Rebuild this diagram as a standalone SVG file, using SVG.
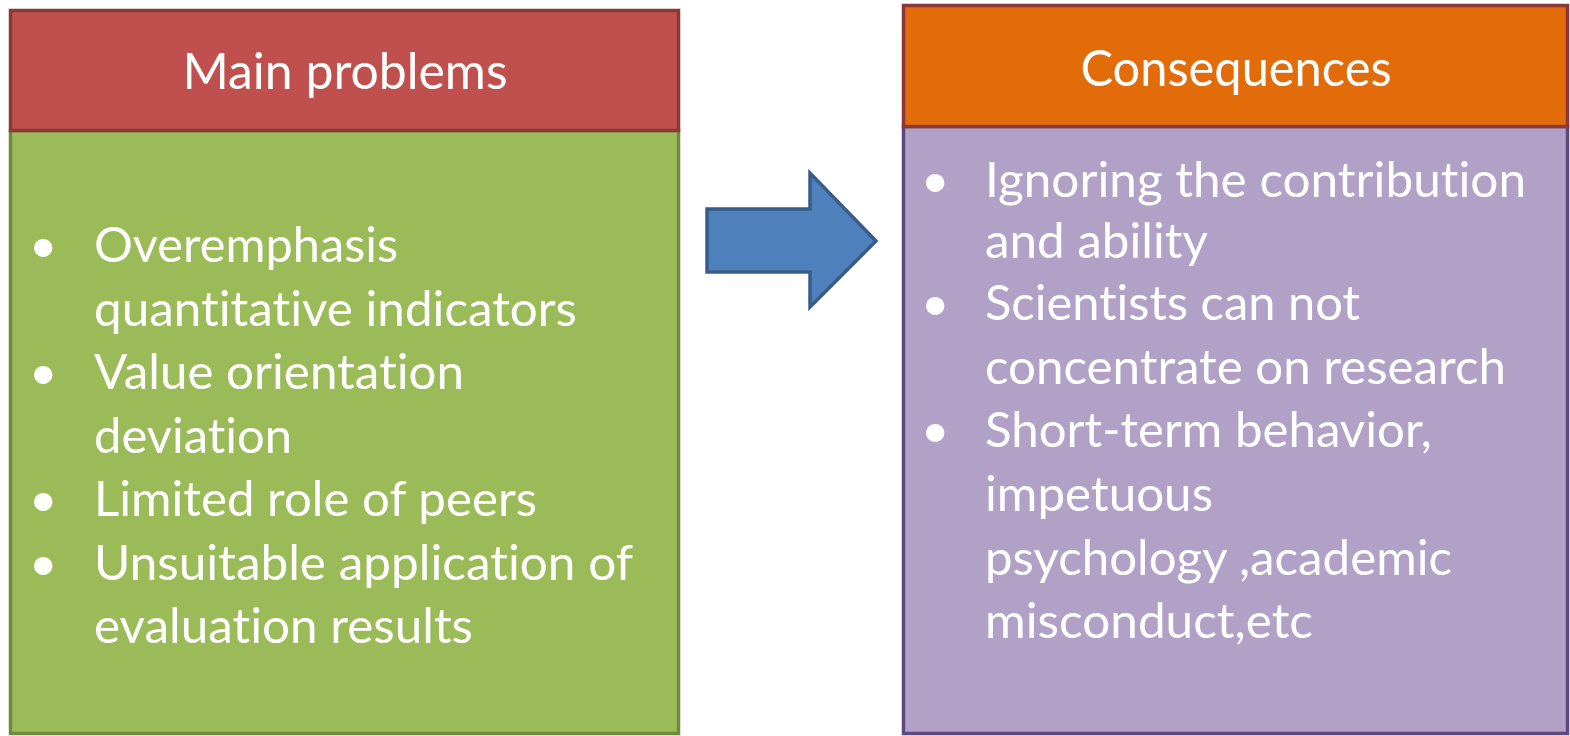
<svg xmlns="http://www.w3.org/2000/svg" width="1570" height="736" viewBox="0 0 1570 736">
  <style>
    .txt { font-family: Lato, "Open Sans", "Liberation Sans", sans-serif; fill: #ffffff; font-variant-ligatures: none; font-feature-settings: "liga" 0, "clig" 0; }
    .head { font-size: 50px; text-anchor: middle; }
    .body { font-size: 49px; }
    .box { stroke-width: 3.5; }
  </style>

  <!-- Left column: problems -->
  <g id="main-problems">
    <rect class="box" x="10.5" y="130.5" width="668" height="603" fill="#9BBB59" stroke="#71893F"/>
    <rect class="box" x="10.5" y="10.5" width="668" height="120" fill="#C0504D" stroke="#8C3836"/>
    <text class="txt head" x="345" y="89" textLength="325" lengthAdjust="spacingAndGlyphs">Main problems</text>
    <g class="txt body">
      <text x="29" y="262">•</text>
      <text x="94" y="262" textLength="304" lengthAdjust="spacingAndGlyphs">Overemphasis</text>
      <text x="94" y="325.5" textLength="483" lengthAdjust="spacingAndGlyphs">quantitative indicators</text>
      <text x="29" y="389">•</text>
      <text x="94" y="389" textLength="370" lengthAdjust="spacingAndGlyphs">Value orientation</text>
      <text x="94" y="452.5" textLength="198" lengthAdjust="spacingAndGlyphs">deviation</text>
      <text x="29" y="516">•</text>
      <text x="94" y="516" textLength="443" lengthAdjust="spacingAndGlyphs">Limited role of peers</text>
      <text x="29" y="579.5">•</text>
      <text x="94" y="579.5" textLength="539" lengthAdjust="spacingAndGlyphs">Unsuitable application of</text>
      <text x="94" y="643" textLength="379" lengthAdjust="spacingAndGlyphs">evaluation results</text>
    </g>
  </g>

  <!-- Right column: consequences -->
  <g id="consequences">
    <rect class="box" x="903.5" y="126.5" width="664" height="607" fill="#B2A1C7" stroke="#5F497A"/>
    <rect class="box" x="903.5" y="5.5" width="664" height="121" fill="#E36C0A" stroke="#8C3836"/>
    <text class="txt head" x="1236" y="86" textLength="311" lengthAdjust="spacingAndGlyphs">Consequences</text>
    <g class="txt body">
      <text x="921" y="197">•</text>
      <text x="985" y="197" textLength="541" lengthAdjust="spacingAndGlyphs">Ignoring the contribution</text>
      <text x="985" y="258" textLength="223" lengthAdjust="spacingAndGlyphs">and ability</text>
      <text x="921" y="320">•</text>
      <text x="985" y="320" textLength="375" lengthAdjust="spacingAndGlyphs">Scientists can not</text>
      <text x="985" y="384" textLength="521" lengthAdjust="spacingAndGlyphs">concentrate on research</text>
      <text x="921" y="447">•</text>
      <text x="985" y="447" textLength="447" lengthAdjust="spacingAndGlyphs">Short-term behavior,</text>
      <text x="985" y="511" textLength="228" lengthAdjust="spacingAndGlyphs">impetuous</text>
      <text x="985" y="575" textLength="467" lengthAdjust="spacingAndGlyphs">psychology ,academic</text>
      <text x="985" y="638" textLength="328" lengthAdjust="spacingAndGlyphs">misconduct,etc</text>
    </g>
  </g>

  <!-- Block arrow between the columns -->
  <g id="connectors">
    <polygon points="707,209 810,209 810,173 876,241 810,307 810,272 707,272" fill="#4F81BD" stroke="#385D8A" stroke-width="3.5" stroke-linejoin="miter"/>
  </g>
</svg>
